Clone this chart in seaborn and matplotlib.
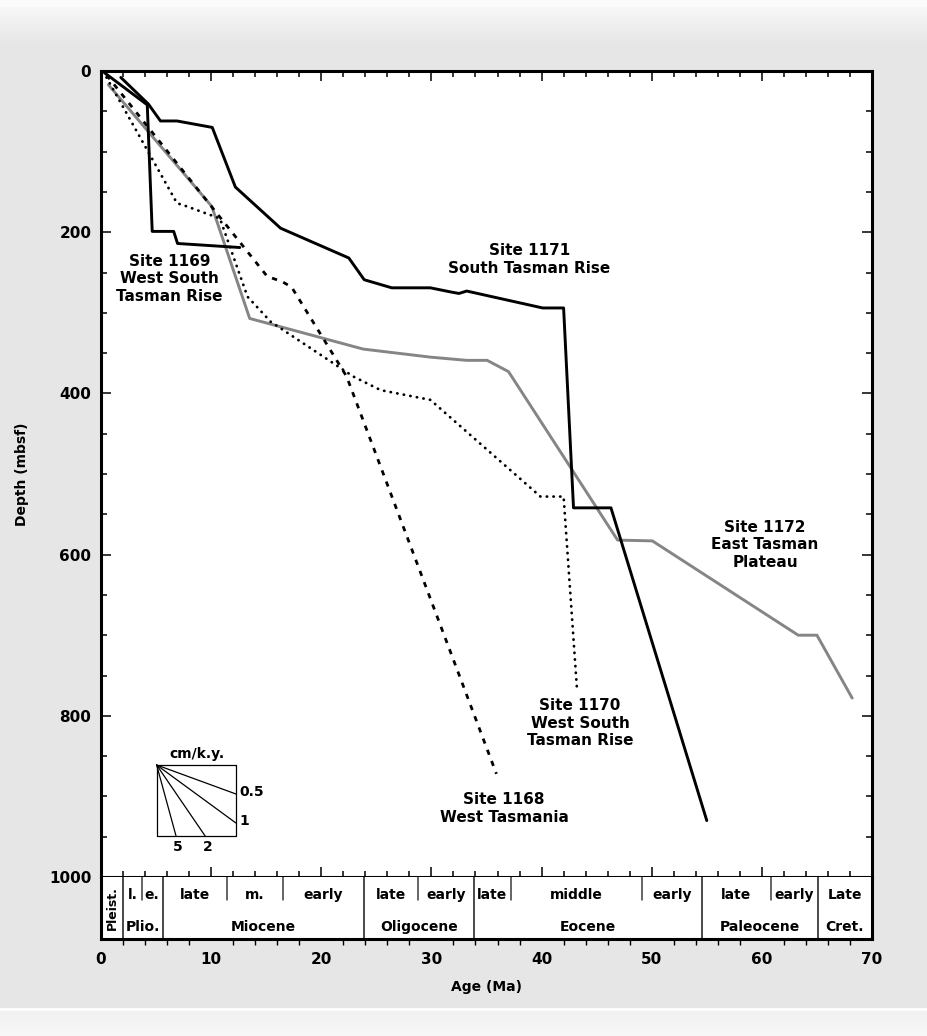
import numpy as np
import pandas as pd
import matplotlib
matplotlib.use("Agg")
import matplotlib.pyplot as plt
import seaborn as sns
from matplotlib.ticker import MultipleLocator

# ---------------- data ----------------
site1171_age = [1.8, 4.3, 5.4, 6.9, 10.1, 12.2, 16.3, 22.5, 23.9, 26.4, 29.9, 31.7, 32.5, 33.2, 40.1, 42.0, 42.9, 46.3, 55.0]
site1171_depth = [8, 41, 62, 62, 70, 144, 195, 232, 259, 269, 269, 274, 276, 273, 294, 294, 542, 542, 930]

site1169_age = [0.3, 4.2, 4.65, 6.6, 6.95, 12.6]
site1169_depth = [2, 42, 199, 199, 214, 219]

site1168_age = [0.5, 15.1, 16.4, 17.3, 22.3, 35.9]
site1168_depth = [5, 255, 261, 268, 379, 872]

site1170_age = [0.5, 6.9, 7.8, 10.8, 13.3, 15.4, 22.9, 25.4, 29.9, 39.9, 42.0, 43.2]
site1170_depth = [8, 164, 168, 183, 280, 311, 379, 396, 408, 528, 528, 764]

site1172_age = [0.67, 10.06, 13.5, 23.8, 29.9, 33.2, 35.06, 37.0, 46.9, 50.06, 63.3, 65.0, 68.2]
site1172_depth = [17, 168, 307, 345, 355, 359, 359, 373, 582, 583, 700, 700, 778]

rate_values = [0.5, 1, 2, 5]          # cm/k.y.
rate_labels = ["0.5", "1", "2", "5"]

epoch_bounds = [0, 2.0, 5.6, 23.85, 33.85, 54.55, 65.06, 70]
epoch_names = ["Pleist.", "Plio.", "Miocene", "Oligocene", "Eocene", "Paleocene", "Cret."]
sub_bounds = [3.7, 11.4, 16.5, 28.75, 37.2, 49.15, 60.8]
sub_names = ["l.", "e.", "late", "m.", "early", "late", "early", "late", "middle", "early",
             "late", "early", "Late"]
sub_edges = [2.0, 3.7, 5.6, 11.4, 16.5, 23.85, 28.75, 33.85, 37.2, 49.15, 54.55, 60.8, 65.06, 70]

x_ticks = [0, 10, 20, 30, 40, 50, 60, 70]
y_ticks = [0, 200, 400, 600, 800, 1000]

# ---------------- style ----------------
sns.set_theme(style="ticks")
plt.rcParams["font.family"] = ["DejaVu Sans"]
plt.rcParams["font.weight"] = "bold"
for k in ["text.color", "axes.labelcolor", "xtick.color", "ytick.color", "axes.edgecolor"]:
    plt.rcParams[k] = "black"

W, H = 927, 1036
fig = plt.figure(figsize=(W / 100, H / 100), dpi=100)
fig.patch.set_facecolor("#e6e7e8")

# background bands
bg = fig.add_axes([0, 0, 1, 1], zorder=-10)
prof = np.full(H, 0.905)
prof[:7] = 0.985
t = np.linspace(0, 1, 38)
prof[7:45] = 0.97 - (0.97 - 0.905) * t
prof[1008:1011] = 0.99
prof[1011:] = np.linspace(0.945, 0.97, H - 1011)
img = np.stack([prof, prof, prof * 1.004], axis=-1)
img = np.clip(img, 0, 1)
bg.imshow(img[:, None, :].repeat(4, axis=1), aspect="auto", extent=[0, 1, 0, 1])
bg.set_axis_off()

left, right = 101 / W, 872 / W
top_px, y1000_px, bar_px = 71, 877, 939
ax = fig.add_axes([left, (H - y1000_px) / H, right - left, (y1000_px - top_px) / H])
axb = fig.add_axes([left, (H - bar_px) / H, right - left, (bar_px - y1000_px) / H], sharex=ax)
ax.set_facecolor("white")
axb.set_facecolor("white")

# ---------------- lines ----------------
def frame(a, d):
    return pd.DataFrame({"age": a, "depth": d})

dot = (0, (0.1, 2.3))
dash = (0, (1.9, 2.4))
sns.lineplot(data=frame(site1172_age, site1172_depth), x="age", y="depth", ax=ax, sort=False,
             estimator=None, color="#858585", lw=2.1)
sns.lineplot(data=frame(site1171_age, site1171_depth), x="age", y="depth", ax=ax, sort=False,
             estimator=None, color="black", lw=2.1)
sns.lineplot(data=frame(site1169_age, site1169_depth), x="age", y="depth", ax=ax, sort=False,
             estimator=None, color="black", lw=2.1)
sns.lineplot(data=frame(site1168_age, site1168_depth), x="age", y="depth", ax=ax, sort=False,
             estimator=None, color="black", lw=2.0, linestyle=dash)
sns.lineplot(data=frame(site1170_age, site1170_depth), x="age", y="depth", ax=ax, sort=False,
             estimator=None, color="black", lw=2.0, linestyle=dot, dash_capstyle="round")

ax.set_xlim(0, 70)
ax.set_ylim(1000, 0)
ax.set_xlabel("")
ax.set_ylabel("Depth (mbsf)", fontsize=10, fontweight="bold",
              family=["Liberation Sans Narrow", "DejaVu Sans"], labelpad=14)
ax.set_yticks(y_ticks)
ax.yaxis.set_minor_locator(MultipleLocator(50))
ax.xaxis.set_major_locator(MultipleLocator(10))
ax.xaxis.set_minor_locator(MultipleLocator(2))
ax.tick_params(which="both", direction="in", top=True, right=True, bottom=True, left=True,
               labelbottom=False, color="black", width=1.1)
ax.tick_params(which="major", length=7.5)
ax.tick_params(which="minor", length=4)
ax.tick_params(axis="y", labelsize=11, pad=7)
for s in ax.spines.values():
    s.set_linewidth(2.2)
    s.set_color("black")
for lab in ax.get_yticklabels():
    lab.set_fontweight("bold")

# ---------------- site labels ----------------
lab_kw = dict(ha="center", va="center", fontsize=11, fontweight="bold", linespacing=1.2)
ax.text(6.2, 258, "Site 1169\nWest South\nTasman Rise", **lab_kw)
ax.text(38.9, 234, "Site 1171\nSouth Tasman Rise", **lab_kw)
ax.text(60.3, 588, "Site 1172\nEast Tasman\nPlateau", **lab_kw)
ax.text(43.5, 809, "Site 1170\nWest South\nTasman Rise", **lab_kw)
ax.text(36.6, 915, "Site 1168\nWest Tasmania", **lab_kw)

# ---------------- rate diagram ----------------
x0, d0, bw, bh = 5.05, 861, 7.2, 88
ax.plot([x0, x0 + bw, x0 + bw, x0, x0], [d0, d0, d0 + bh, d0 + bh, d0], color="black", lw=0.9)
for r, lbl in zip(rate_values, rate_labels):
    m = 10 * r  # m per Ma
    xe = min(x0 + bw, x0 + bh / m)
    de = d0 + m * (xe - x0)
    ax.plot([x0, xe], [d0, de], color="black", lw=0.9)
    if xe >= x0 + bw - 1e-9:
        ax.text(x0 + bw + 0.35, de - 2, lbl, ha="left", va="center", fontsize=10, fontweight="bold")
    else:
        ax.text(xe + 0.2, d0 + bh + 14, lbl, ha="center", va="center", fontsize=10, fontweight="bold")
ax.text(x0 + bw / 2 + 0.1, d0 - 13, "cm/k.y.", ha="center", va="center", fontsize=10, fontweight="bold")

# ---------------- time scale bar ----------------
axb.set_ylim(0, 1)
axb.set_yticks([])
for b in epoch_bounds[1:-1]:
    axb.axvline(b, color="#3a3a3a", lw=1.3)
for b in sub_bounds:
    axb.plot([b, b], [1, 0.63], color="#3a3a3a", lw=1.1)
for i, name in enumerate(epoch_names):
    c = (epoch_bounds[i] + epoch_bounds[i + 1]) / 2
    if name == "Pleist.":
        axb.text(c, 0.5, name, rotation=90, ha="center", va="center", fontsize=9, fontweight="bold")
    else:
        axb.text(c, 0.2, name, ha="center", va="center", fontsize=10, fontweight="bold")
for i, name in enumerate(sub_names):
    c = (sub_edges[i] + sub_edges[i + 1]) / 2
    axb.text(c, 0.71, name, ha="center", va="center", fontsize=10, fontweight="bold")
axb.set_xticks(x_ticks)
axb.tick_params(axis="x", length=0, pad=9, labelsize=11)
for lab in axb.get_xticklabels():
    lab.set_fontweight("bold")
axb.spines["top"].set_visible(False)
for k in ["left", "right", "bottom"]:
    axb.spines[k].set_linewidth(2.2)
    axb.spines[k].set_color("black")
axb.set_xlabel("Age (Ma)", fontsize=10, fontweight="bold", labelpad=10)

fig.savefig("out.png", dpi=100, facecolor=fig.get_facecolor())
